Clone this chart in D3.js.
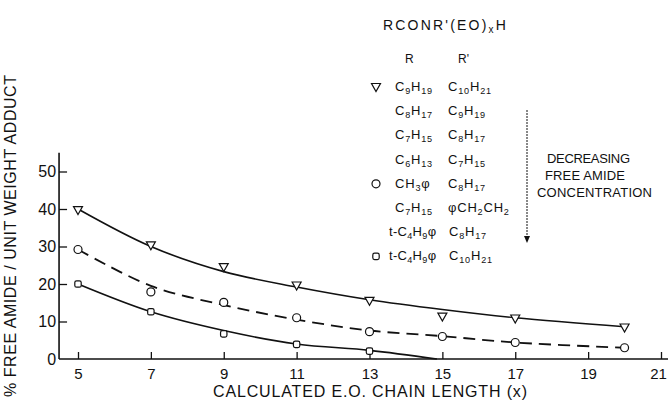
<!DOCTYPE html>
<html>
<head>
<meta charset="utf-8">
<script src="https://cdn.jsdelivr.net/npm/d3@7"></script>
<style>
  body { margin: 0; background: #fff; }
  svg { display: block; }
  text { font-family: "Liberation Sans", "DejaVu Sans", sans-serif; fill: #111; }
</style>
</head>
<body>
<script>
// measured points, chain length x
var chainLength = [5, 7, 9, 11, 13, 15, 17, 20];
var triValues = [39.7, 30.3, 24.5, 19.6, 15.5, 11.3, 10.8, 8.4];
var circleValues = [29.2, 17.9, 15.1, 11, 7.3, 6, 4.4, 3];
var squareLength = [5, 7, 9, 11, 13];
var squareValues = [20, 12.6, 6.7, 3.9, 2.1];

// hand drawn fitted curves
var triCurveX = [5, 7, 9, 11, 13, 15, 17, 20];
var triCurveY = [40, 30, 23.3, 19.2, 15.8, 13.2, 11, 8.6];
var circleCurveX = [5, 7, 9, 11, 13, 15, 17, 20];
var circleCurveY = [29.2, 19.5, 14.4, 10.5, 7.6, 6.1, 4.4, 3];
var squareCurveX = [5, 7, 9, 11, 13, 14.85];
var squareCurveY = [20, 12.6, 7.6, 4, 2.3, 0];

var xTicks = [5, 7, 9, 11, 13, 15, 17, 19, 21];
var yTicks = [0, 10, 20, 30, 40, 50];

// legend table
var legendR = ["C9H19", "C8H17", "C7H15", "C6H13", "CH3φ", "C7H15", "t-C4H9φ", "t-C4H9φ"];
var legendR2 = ["C10H21", "C9H19", "C8H17", "C7H15", "C8H17", "φCH2CH2", "C8H17", "C10H21"];
var legendMark = ["tri", "", "", "", "circle", "", "", "square"];

var width = 668, height = 407;

var svg = d3.select("body").append("svg")
    .attr("width", width)
    .attr("height", height);

var x = d3.scaleLinear().domain([5, 21]).range([78, 661]);
var y = d3.scaleLinear().domain([0, 50]).range([359, 171.5]);

// axis lines
svg.append("line")
    .attr("x1", x(4.48)).attr("x2", x(21.2))
    .attr("y1", y(0)).attr("y2", y(0))
    .attr("stroke", "#111").attr("stroke-width", 1.6);
svg.append("line")
    .attr("x1", x(4.48)).attr("x2", x(4.48))
    .attr("y1", y(0)).attr("y2", y(55))
    .attr("stroke", "#111").attr("stroke-width", 1.6);

var xAxis = svg.append("g")
    .attr("transform", "translate(0," + y(0) + ")")
    .call(d3.axisBottom(x).tickValues(xTicks).tickSizeInner(-7).tickSizeOuter(0).tickPadding(9));
var yAxis = svg.append("g")
    .attr("transform", "translate(" + x(4.48) + ",0)")
    .call(d3.axisLeft(y).tickValues(yTicks).tickSizeInner(-8).tickSizeOuter(0).tickPadding(3));

[xAxis, yAxis].forEach(function(a) {
  a.select(".domain").remove();
  a.selectAll(".tick line").attr("stroke", "#111").attr("stroke-width", 1.3);
  a.selectAll("text").attr("fill", "#111").style("font-family", "Liberation Sans, sans-serif");
});
xAxis.selectAll("text").style("font-size", "15px");
xAxis.selectAll(".tick").filter(function(d) { return d === 21; }).select("text").attr("dx", -3);
yAxis.selectAll("text").style("font-size", "16px");
yAxis.selectAll(".tick").filter(function(d) { return d === 0; }).select("line").remove();

// axis titles
svg.append("text")
    .attr("x", 213).attr("y", 397)
    .attr("textLength", 314).attr("lengthAdjust", "spacing")
    .style("font-size", "16px")
    .text("CALCULATED E.O. CHAIN LENGTH (x)");

svg.append("text")
    .attr("transform", "translate(16,236) rotate(-90)")
    .attr("text-anchor", "middle")
    .attr("textLength", 322).attr("lengthAdjust", "spacing")
    .style("font-size", "16px")
    .text("% FREE AMIDE / UNIT WEIGHT ADDUCT");

// curves
var line = d3.line()
    .x(function(d) { return x(d[0]); })
    .y(function(d) { return y(d[1]); })
    .curve(d3.curveCatmullRom);

function pairs(xs, ys) { return xs.map(function(v, i) { return [v, ys[i]]; }); }

svg.append("path")
    .attr("d", line(pairs(triCurveX, triCurveY)))
    .attr("fill", "none").attr("stroke", "#111").attr("stroke-width", 1.6);
svg.append("path")
    .attr("d", line(pairs(circleCurveX, circleCurveY)))
    .attr("fill", "none").attr("stroke", "#111").attr("stroke-width", 1.8)
    .attr("stroke-dasharray", "12,7");
svg.append("path")
    .attr("d", line(pairs(squareCurveX, squareCurveY)))
    .attr("fill", "none").attr("stroke", "#111").attr("stroke-width", 1.6);

// markers
function drawMark(g, kind, cx, cy) {
  if (kind === "tri") {
    g.append("path")
        .attr("d", "M" + (cx - 4.5) + "," + (cy - 3.5) + "L" + (cx + 4.5) + "," + (cy - 3.5) + "L" + cx + "," + (cy + 4.5) + "Z")
        .attr("fill", "#fff").attr("stroke", "#111").attr("stroke-width", 1.2);
  } else if (kind === "circle") {
    g.append("circle").attr("cx", cx).attr("cy", cy).attr("r", 4)
        .attr("fill", "#fff").attr("stroke", "#111").attr("stroke-width", 1.2);
  } else if (kind === "square") {
    g.append("rect").attr("x", cx - 3.2).attr("y", cy - 3.2)
        .attr("width", 6.4).attr("height", 6.4).attr("rx", 1.8)
        .attr("fill", "#fff").attr("stroke", "#111").attr("stroke-width", 1.2);
  }
}

var marks = svg.append("g");
chainLength.forEach(function(c, i) { drawMark(marks, "tri", x(c), y(triValues[i])); });
chainLength.forEach(function(c, i) { drawMark(marks, "circle", x(c), y(circleValues[i])); });
squareLength.forEach(function(c, i) { drawMark(marks, "square", x(c), y(squareValues[i])); });

// legend
// digits become subscripts
function formula(sel, str, size) {
  var parts = str.match(/\d+|[^\d]+/g);
  var down = false;
  parts.forEach(function(p) {
    var t = sel.append("tspan").text(p);
    if (/^\d+$/.test(p)) {
      t.style("font-size", (size * 0.7) + "px").attr("dy", down ? 0 : 3);
      down = true;
    } else {
      t.attr("dy", down ? -3 : 0);
      down = false;
    }
  });
}

svg.append("text")
    .attr("x", 383).attr("y", 30)
    .style("font-size", "14px").style("letter-spacing", "2.2px")
    .call(function(t) {
      t.append("tspan").text("RCONR'(EO)");
      t.append("tspan").text("x").style("font-size", "10px").attr("dy", 3);
      t.append("tspan").text("H").attr("dy", -3);
    });

svg.append("text").attr("x", 405).attr("y", 63).style("font-size", "12px").text("R");
svg.append("text").attr("x", 458).attr("y", 63).style("font-size", "12px").text("R'");

var legend = svg.append("g");
legendR.forEach(function(r, i) {
  var cy = 87 + i * 24.2;
  var tert = r.indexOf("t-") === 0;
  drawMark(legend, legendMark[i], 376, cy);
  legend.append("text").attr("x", tert ? 389 : 395).attr("y", cy + 4)
      .style("font-size", "13px").style("letter-spacing", tert ? "0.3px" : "0.8px")
      .call(formula, r, 13);
  legend.append("text").attr("x", tert ? 449 : 448).attr("y", cy + 4)
      .style("font-size", "13px").style("letter-spacing", "0.8px")
      .call(formula, legendR2[i], 13);
});

// arrow
svg.append("line")
    .attr("x1", 527).attr("x2", 527).attr("y1", 110).attr("y2", 238)
    .attr("stroke", "#111").attr("stroke-width", 1).attr("stroke-dasharray", "2,1");
svg.append("path")
    .attr("d", "M524,236 L530,236 L527,243 Z")
    .attr("fill", "#111");

var note = ["DECREASING", "FREE  AMIDE", "CONCENTRATION"];
var noteX = [547, 545, 537];
var noteW = [83, 80, 115];
note.forEach(function(s, i) {
  svg.append("text")
      .attr("x", noteX[i]).attr("y", 163 + i * 17)
      .attr("textLength", noteW[i]).attr("lengthAdjust", "spacing")
      .style("font-size", "13px")
      .text(s);
});
</script>
</body>
</html>
